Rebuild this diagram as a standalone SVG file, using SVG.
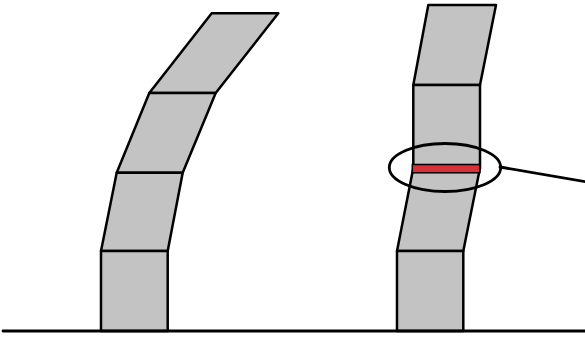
<svg xmlns="http://www.w3.org/2000/svg" width="585" height="340" viewBox="0 0 585 340">
<style>
.blk{fill:#c3c3c3;stroke:#000;stroke-width:2.5;stroke-linejoin:round}
.ln{fill:none;stroke:#000;stroke-width:2.8;stroke-linecap:round}
.bar{fill:#d9313a;stroke:#000;stroke-width:1.5}
</style>
<rect width="585" height="340" fill="#fff"/>
<g id="left-column">
<polygon class="blk" points="211.7,13.3 278.3,13.3 215.7,93 149.3,93"/>
<polygon class="blk" points="149.3,93 215.7,93 182.7,172.7 116.7,172.7"/>
<polygon class="blk" points="116.7,172.7 182.7,172.7 167.7,251 101,251"/>
<polygon class="blk" points="101,251 167.7,251 167.7,331 101,331"/>
</g>
<g id="right-column">
<polygon class="blk" points="428.3,5 496,5 480,85 413.3,85"/>
<polygon class="blk" points="413.3,85 480,85 480,168 413.3,168"/>
<polygon class="blk" points="413.3,168 480,168 463.3,251 397,251"/>
<polygon class="blk" points="397,251 463.3,251 463.3,331 397,331"/>
<rect class="bar" x="412.3" y="164.5" width="67.5" height="8.3"/>
</g>
<g id="highlight">
<ellipse cx="445" cy="167.5" rx="55.7" ry="24" fill="none" stroke="#000" stroke-width="2.8"/>
</g>
<g id="connectors">
<line class="ln" x1="500" y1="167" x2="590" y2="182.5"/>
<line class="ln" x1="3" y1="331" x2="590" y2="331"/>
</g>
</svg>
